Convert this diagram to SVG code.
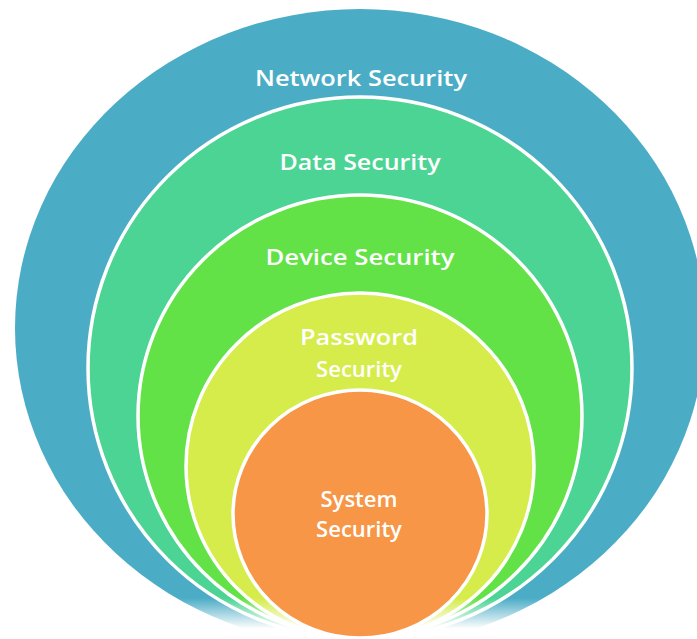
<svg xmlns="http://www.w3.org/2000/svg" width="697" height="639" viewBox="0 0 697 639">
<style>
.ring{stroke:#fff;stroke-width:3.5}
.lbl{font-family:"Open Sans","Noto Sans",sans-serif;font-weight:600;font-size:22px;fill:#fff;text-anchor:middle}
</style>
<defs>
<linearGradient id="fade" x1="0" y1="0" x2="0" y2="1">
<stop offset="0" stop-color="#fff" stop-opacity="0"/>
<stop offset="0.75" stop-color="#fff" stop-opacity="1"/>
<stop offset="1" stop-color="#fff" stop-opacity="1"/>
</linearGradient>
</defs>
<rect width="697" height="639" fill="#fff"/>
<g id="network">
<ellipse cx="360" cy="328" rx="345" ry="319" fill="#4BACC6"/>
<text class="lbl" x="361" y="86" textLength="212" lengthAdjust="spacingAndGlyphs">Network Security</text>
</g>
<g id="data">
<ellipse class="ring" cx="360" cy="368" rx="272" ry="271" fill="#4BD494"/>
<text class="lbl" x="360" y="170" textLength="161" lengthAdjust="spacingAndGlyphs">Data Security</text>
</g>
<g id="device">
<ellipse class="ring" cx="360" cy="416" rx="222" ry="221" fill="#62E246"/>
<text class="lbl" x="360" y="265" textLength="189" lengthAdjust="spacingAndGlyphs">Device Security</text>
</g>
<g id="password">
<ellipse class="ring" cx="360" cy="466" rx="174" ry="173" fill="#D5EC4A"/>
<text class="lbl" x="359" y="345" textLength="118" lengthAdjust="spacingAndGlyphs">Password</text>
<text class="lbl" x="359" y="377">Security</text>
</g>
<rect x="0" y="598" width="697" height="41" fill="url(#fade)"/>
<g id="system">
<ellipse class="ring" cx="360" cy="514" rx="127" ry="124" fill="#F79646"/>
<text class="lbl" x="359" y="507">System</text>
<text class="lbl" x="359" y="537">Security</text>
</g>
<g id="connectors"/>
</svg>
